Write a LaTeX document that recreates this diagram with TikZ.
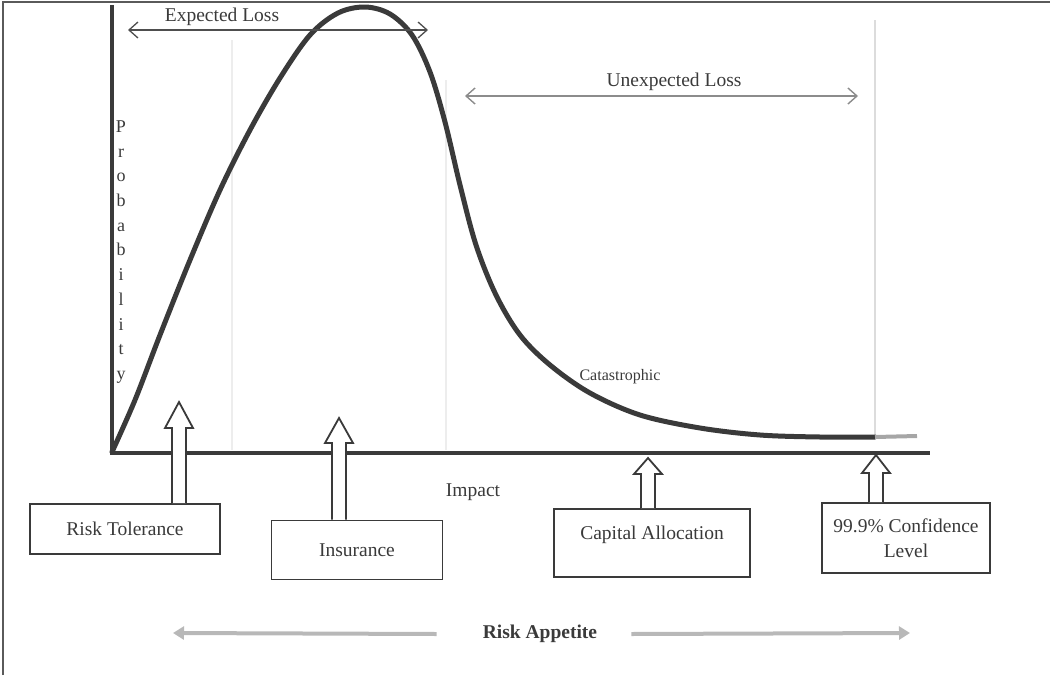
\documentclass[tikz,border=0pt]{standalone}
\usepackage{fontspec}
\setmainfont{Liberation Serif}
\usetikzlibrary{arrows.meta,calc}
\definecolor{ink}{HTML}{3A3A3A}
\definecolor{faint}{HTML}{EDEDED}
\definecolor{apgray}{HTML}{B8B8B8}
\definecolor{ulgray}{HTML}{8C8C8C}
\definecolor{framegray}{HTML}{5A5A5A}
\newcommand{\hollowup}[3]{%
  \draw[hollow] let \p1=(#1), \p2=(#2) in
    (\x1-7pt,\y1) -- (\x1-7pt,\y2-#3) -- (\x1-14pt,\y2-#3) -- (\x1,\y2)
    -- (\x1+14pt,\y2-#3) -- (\x1+7pt,\y2-#3) -- (\x1+7pt,\y1);}
\begin{document}
\begin{tikzpicture}[x=1pt,y=-1pt,
  lbl/.style={font=\fontsize{19.5}{24}\selectfont, text=ink, inner sep=0pt},
  box/.style={draw=ink, line width=1.8pt, fill=white, font=\fontsize{19.5}{25}\selectfont, text=ink},
  axis/.style={draw=ink, line width=4.5pt},
  curve/.style={draw=ink, line width=5pt, line cap=round},
  faintline/.style={draw=faint, line width=1.2pt},
  hollow/.style={draw=ink, line width=1.8pt, fill=white, line join=miter},
  elarrow/.style={draw=ink!90, line width=1.3pt, {Straight Barb[length=9pt,width=16pt]}-{Straight Barb[length=9pt,width=16pt]}},
  ularrow/.style={draw=ulgray, line width=1.4pt, {Straight Barb[length=9pt,width=16pt]}-{Straight Barb[length=9pt,width=16pt]}},
  raarrow/.style={draw=apgray, line width=4pt, -{Triangle[length=11pt,width=13pt]}}
]
\useasboundingbox (0,0) rectangle (1050,675);
% frame
\draw[draw=framegray, line width=1.5pt] (3,675) -- (3,2) -- (1050,2);
% faint guide lines
\draw[faintline] (232,40) -- (232,450);
\draw[faintline] (446,80) -- (446,450);
\draw[faintline, draw=ink!18] (875,20) -- (875,436);
% axes
\coordinate (O) at (112,453);
\coordinate (Ytop) at (112,5);
\coordinate (Xend) at (930,453);
\draw[axis] (Ytop) -- (O) -- (Xend);
% curve
\draw[curve] plot[smooth, tension=0.55] coordinates {
  (112,452) (135,400) (160,335) (190,260) (220,190) (250,130) (280,78)
  (310,35) (338,13) (365,7) (390,14) (412,35) (430,72) (445,122)
  (460,185) (476,245) (496,295) (520,335) (550,365) (590,393)
  (640,415) (700,428) (760,435) (820,437) (875,437)};
\draw[draw=ink!45, line width=4pt] (875,437) -- (917,436);
% Expected loss
\node[lbl] (el) at (222,17) {Expected Loss};
\coordinate (elL) at (128,30);
\coordinate (elR) at (428,30);
\draw[elarrow] (elL) -- (elR);
% Unexpected loss
\node[lbl] (ul) at (674,82) {Unexpected Loss};
\coordinate (ulL) at (465,96);
\coordinate (ulR) at (858,96);
\draw[ularrow] (ulL) -- (ulR);
% Probability
\node[font=\fontsize{18}{24.7}\selectfont, text=ink, align=center, inner sep=0pt] (prob) at (121,252)
  {P\\r\\o\\b\\a\\b\\i\\l\\i\\t\\y};
% Catastrophic, Impact
\node[lbl, font=\fontsize{16}{20}\selectfont] (cat) at (620,377) {Catastrophic};
\node[lbl] (imp) at (473,492) {Impact};
% boxes
\node[box, minimum width=190pt, minimum height=50pt] (rt) at (125,529) {Risk Tolerance};
\node[box, minimum width=171pt, minimum height=59pt] (ins) at (357,550) {Insurance};
\node[box, minimum width=196pt, minimum height=68pt, text depth=20pt] (ca) at (652,543) {Capital Allocation};
\node[box, minimum width=168pt, minimum height=70pt, align=center] (cl) at (906,538) {99.9\% Confidence\\Level};
% hollow arrows
\coordinate (t1) at (179,402);
\coordinate (t2) at (339,418);
\coordinate (t3) at (648,458);
\coordinate (t4) at (876,455);
\hollowup{rt.north -| t1}{t1}{26pt}
\hollowup{ins.north -| t2}{t2}{25pt}
\hollowup{ca.north -| t3}{t3}{16pt}
\hollowup{cl.north -| t4}{t4}{18pt}
% Risk appetite
\node[lbl, font=\bfseries\fontsize{19.5}{24}\selectfont] (ra) at (540,634) {Risk Appetite};
\coordinate (raL) at (173,633);
\coordinate (raR) at (910,633);
\draw[raarrow] ($(ra.west)+(-46,0)$) -- (raL);
\draw[raarrow] ($(ra.east)+(34,0)$) -- (raR);
\end{tikzpicture}
\end{document}
